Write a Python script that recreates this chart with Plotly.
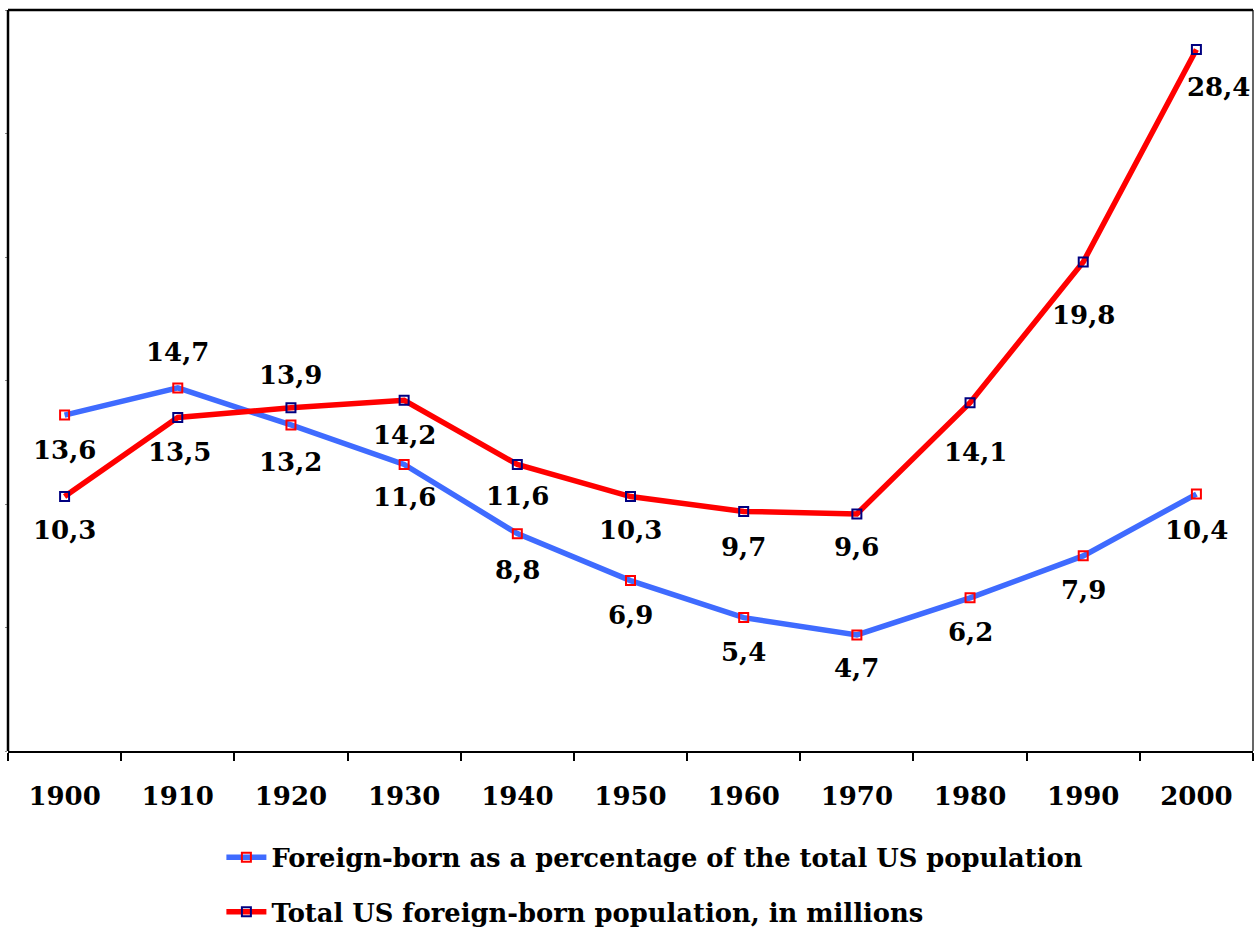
import plotly.graph_objects as go

years = ["1900", "1910", "1920", "1930", "1940", "1950", "1960", "1970", "1980", "1990", "2000"]
pct_values = [13.6, 14.7, 13.2, 11.6, 8.8, 6.9, 5.4, 4.7, 6.2, 7.9, 10.4]
pop_values = [10.3, 13.5, 13.9, 14.2, 11.6, 10.3, 9.7, 9.6, 14.1, 19.8, 28.4]
pct_name = "Foreign-born as a percentage of the total US population"
pop_name = "Total US foreign-born population, in millions"

# label vertical offsets in px (negative = below)
pct_shift = [-35, 36, -37, -33, -36, -34, -34, -33, -34, -34, -36]
pop_shift = [-33, -34, 33, -35, -32, -33, -36, -33, -49, -53, -37]
pop_xshift = [0, 2, 0, 0, 0, 0, 0, 0, 5, 0, 22]

FONT = "DejaVu Serif"

def fmt(v):
    return f"{v:.1f}".replace(".", ",")

fig = go.Figure()
fig.add_trace(go.Scatter(
    x=years, y=pct_values, name=pct_name, mode="lines+markers",
    line=dict(color="#3F6BFF", width=5.5),
    marker=dict(symbol="square-open", size=9, color="#FF0000", line=dict(width=2, color="#FF0000")),
    legendgroup="a",
))
fig.add_trace(go.Scatter(
    x=years, y=pop_values, name=pop_name, mode="lines+markers",
    line=dict(color="#FF0000", width=5.5),
    marker=dict(symbol="square-open", size=9, color="#000080", line=dict(width=2, color="#000080")),
    legendgroup="b",
))

annos = []
for i, v in enumerate(pct_values):
    annos.append(dict(x=i, y=v, xref="x", yref="y", text=fmt(v), showarrow=False, yshift=pct_shift[i],
                      font=dict(family=FONT, size=26, color="black", weight="bold")))
for i, v in enumerate(pop_values):
    annos.append(dict(x=i, y=v, xref="x", yref="y", text=fmt(v), showarrow=False, yshift=pop_shift[i],
                      xshift=pop_xshift[i],
                      font=dict(family=FONT, size=26, color="black", weight="bold")))

shapes = [
    dict(type="line", xref="paper", yref="paper", x0=0, x1=1, y0=1, y1=1, line=dict(color="black", width=2.5)),
    dict(type="line", xref="paper", yref="paper", x0=0, x1=0, y0=0, y1=1, line=dict(color="black", width=2.5)),
    dict(type="line", xref="paper", yref="paper", x0=1, x1=1, y0=0, y1=1, line=dict(color="black", width=1.2)),
]

fig.update_layout(
    width=1260, height=932,
    margin=dict(l=8, r=7, t=10, b=181, autoexpand=False),
    plot_bgcolor="white", paper_bgcolor="white",
    showlegend=True,
    legend=dict(
        x=0.1714, y=-0.112, xanchor="left", yanchor="top",
        font=dict(family=FONT, size=25.8, color="black", weight="bold"),
        tracegroupgap=18, itemwidth=40, bgcolor="rgba(0,0,0,0)",
    ),
    annotations=annos,
    shapes=shapes,
    xaxis=dict(
        type="category", tickson="boundaries", ticks="outside", ticklen=8, tickwidth=2,
        tickcolor="black", showline=True, linecolor="black", linewidth=2, showgrid=False,
        range=[-0.5, 10.5], ticklabelstandoff=21, automargin=False,
        tickfont=dict(family=FONT, size=26, color="black", weight="bold"),
    ),
    yaxis=dict(
        range=[0, 30], dtick=5, showticklabels=False, showgrid=False, zeroline=False,
        ticks="outside", ticklen=2, tickcolor="#888888", showline=False, automargin=False,
    ),
)

fig.write_html("out.html", config={"displayModeBar": False},
               post_script="document.body.style.margin='0';document.body.style.overflow='hidden';")
